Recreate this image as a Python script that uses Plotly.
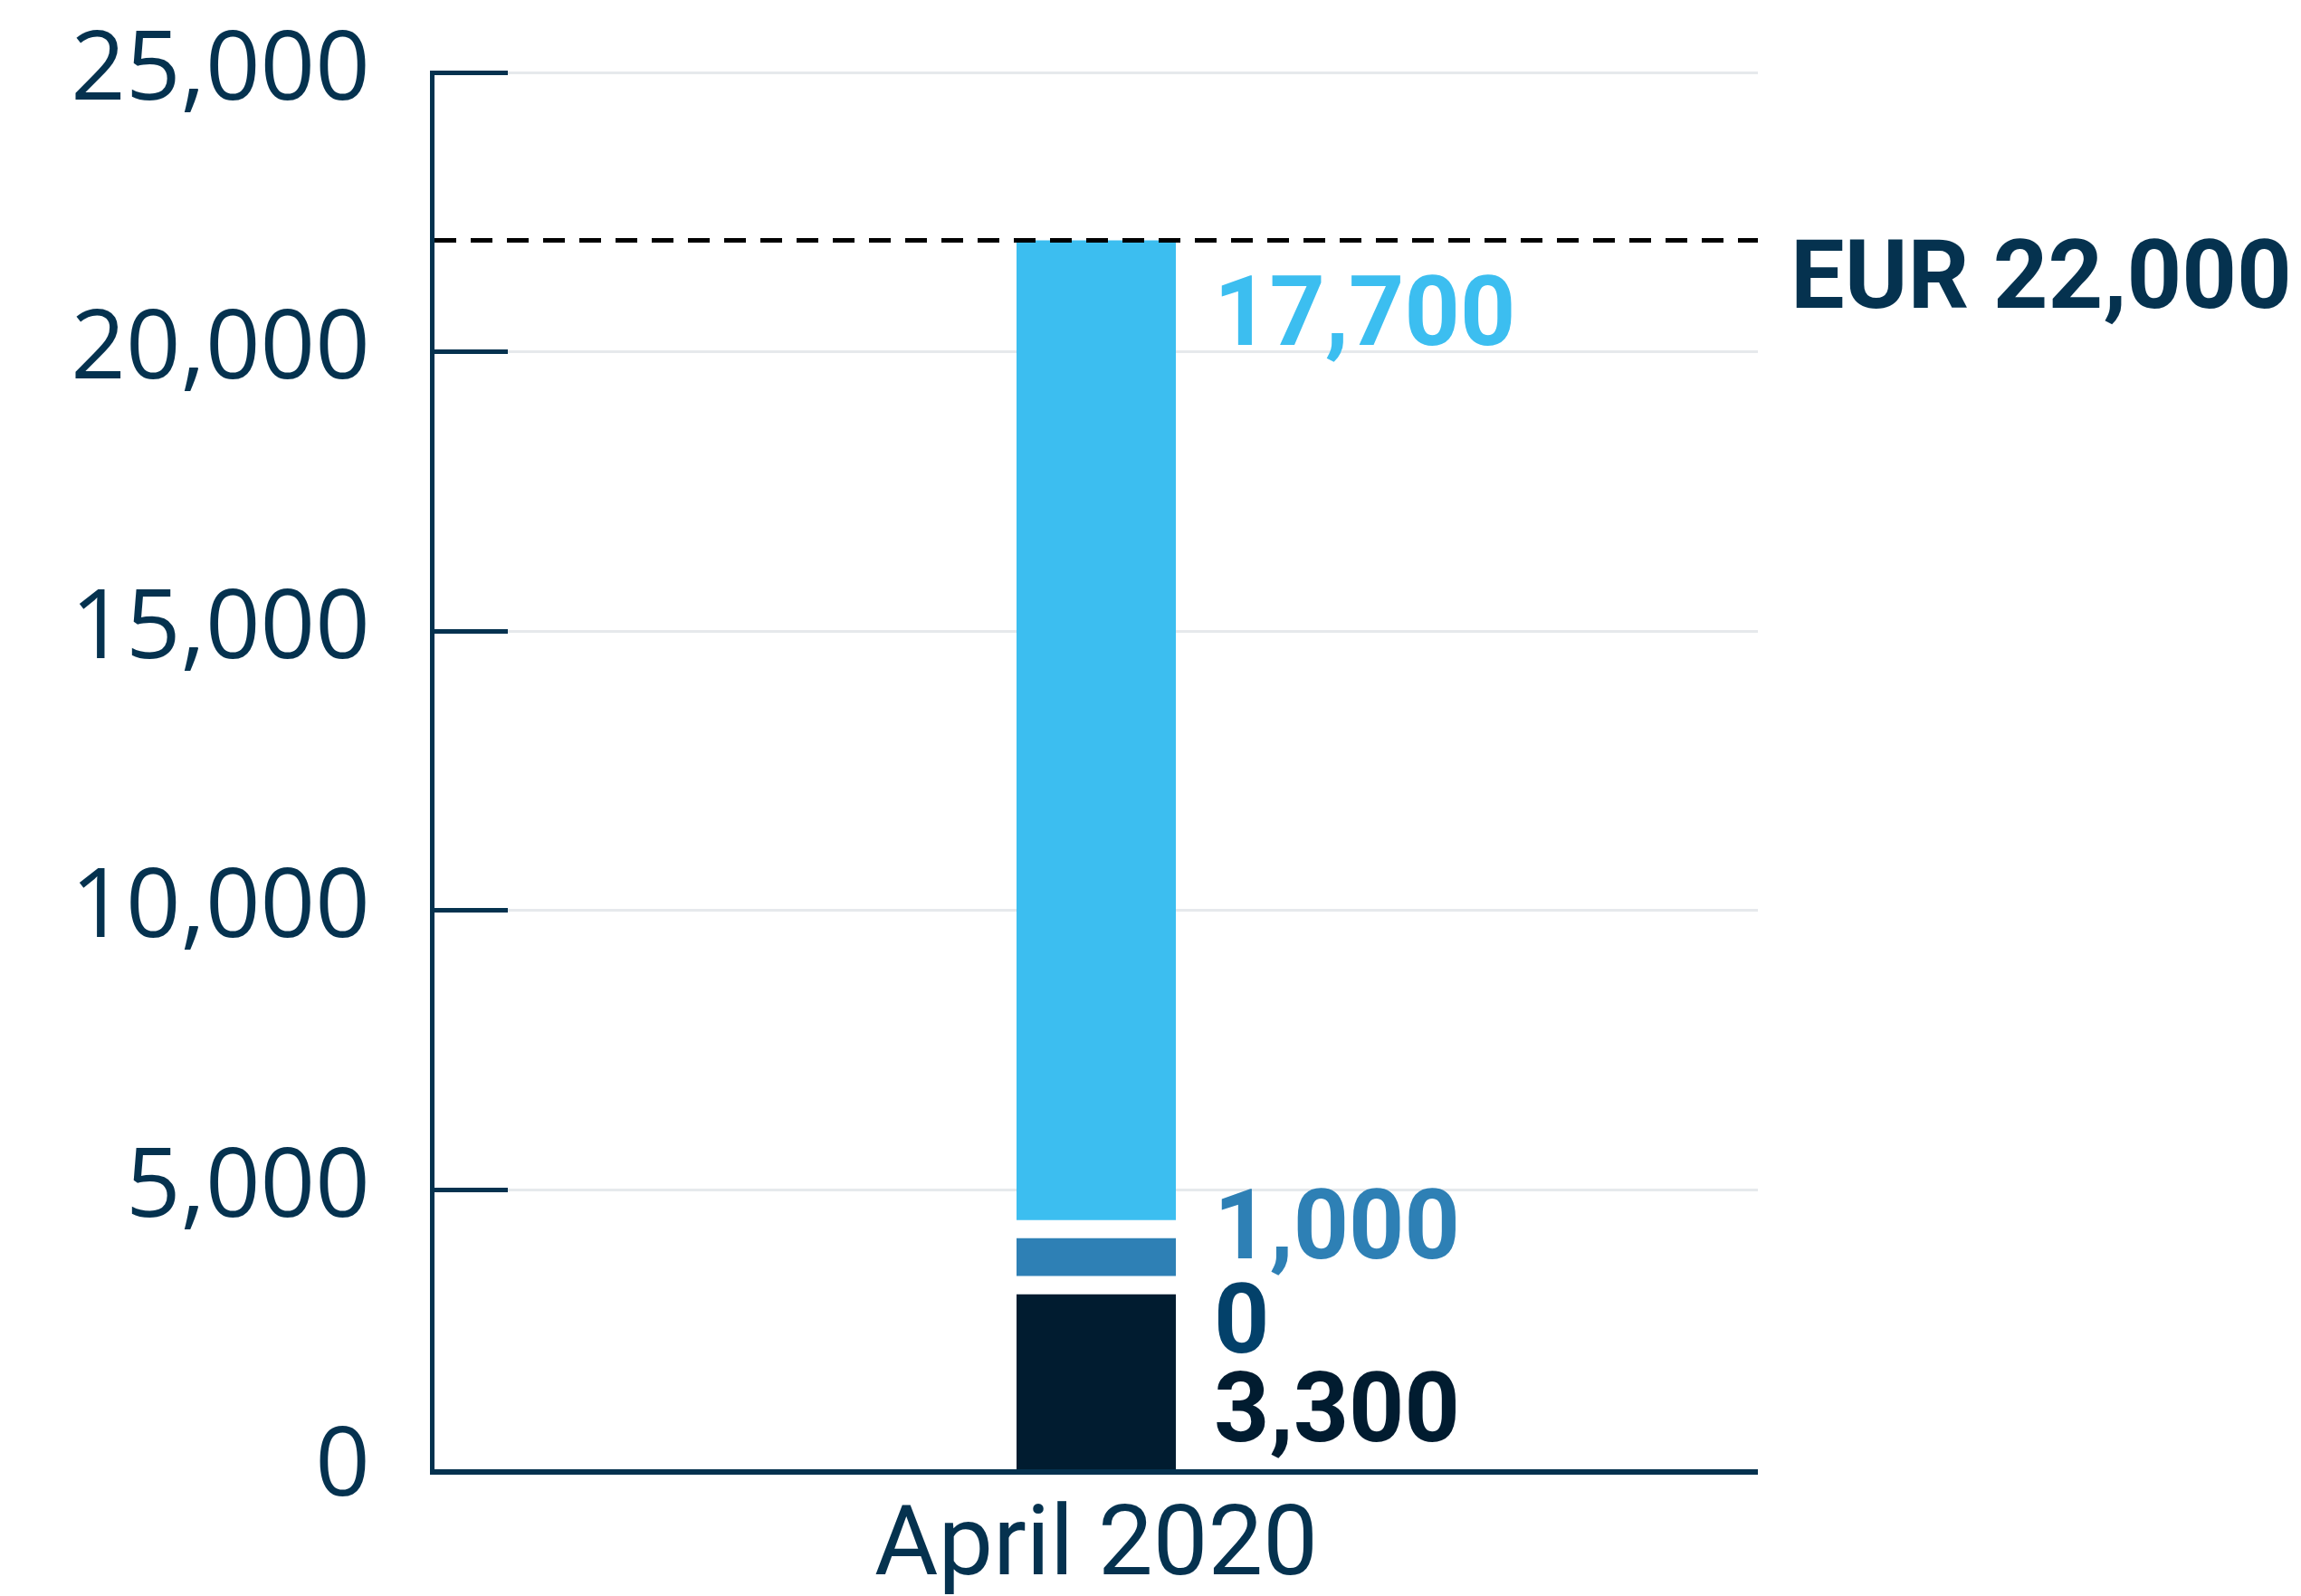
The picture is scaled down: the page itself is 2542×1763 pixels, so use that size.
import numpy as np
import plotly.graph_objects as go

# ---- data -------------------------------------------------------------
categories = ["April 2020"]
segment_names = ["Own funds", "Other", "Loans", "Grants"]
segment_values = [3300, 0, 1000, 17700]          # stacked bottom -> top
segment_colors = ["#011c30", "#03416a", "#2e80b5", "#3cbef0"]
total_value = 22000
total_label = "EUR 22,000"
y_tick_values = [0, 5000, 10000, 15000, 20000, 25000]

# ---- styling ------------------------------------------------------------
NAVY = "#05324f"
PLOT_W = 1462                 # plot area width in px
BAR_PX = 176                  # visible bar width in px
GAP_PX = 20                   # white separator between segments
bar_w = BAR_PX / PLOT_W
sep_w = (BAR_PX + GAP_PX) / PLOT_W

bases = np.concatenate([[0], np.cumsum(segment_values)[:-1]])
tops = bases + np.array(segment_values)

fig = go.Figure()

# draw order: top segment, bottom segment, then the separated middle ones
draw_order = [3, 0, 1, 2]
for i in draw_order:
    separated = i in (1, 2)
    fig.add_trace(go.Bar(
        x=categories,
        y=[segment_values[i]],
        base=[bases[i]],
        name=segment_names[i],
        width=sep_w if separated else bar_w,
        marker=dict(
            color=segment_colors[i],
            line=dict(color="white", width=GAP_PX if separated else 0),
        ),
        hoverinfo="skip",
        showlegend=False,
    ))

# value labels to the right of the bar
label_shift = [-136, -38, 4, -79]
for i in range(len(segment_values)):
    fig.add_annotation(
        x=categories[0], y=tops[i], xref="x", yref="y",
        text=f"{segment_values[i]:,}",
        showarrow=False, xanchor="left", yanchor="middle",
        xshift=BAR_PX / 2 + 40, yshift=label_shift[i],
        font=dict(family="Roboto", size=107, color=segment_colors[i], weight="bold"),
    )

# total reference line and its label
fig.add_shape(
    type="line", xref="paper", yref="y", x0=0, x1=1, y0=total_value, y1=total_value,
    line=dict(color="#000000", width=5, dash="24px,16px"), layer="above",
)
fig.add_annotation(
    x=1, y=total_value, xref="paper", yref="y", text=total_label,
    showarrow=False, xanchor="left", yanchor="middle", xshift=34, yshift=-38,
    font=dict(family="Roboto", size=106, color=NAVY, weight="bold"),
)

fig.update_layout(
    width=2542, height=1763,
    margin=dict(l=480, r=600, t=78, b=140, autoexpand=False),
    paper_bgcolor="white", plot_bgcolor="white",
    barmode="overlay",
    showlegend=False,
)
fig.update_xaxes(
    range=[-0.5, 0.5], showline=True, linecolor=NAVY, linewidth=6,
    showgrid=False, ticks="", zeroline=False, automargin=False,
    tickfont=dict(family="Roboto", size=108, color=NAVY),
    ticklabelstandoff=-20,
)
fig.update_yaxes(
    # a hair of headroom keeps the top tick and gridline from being clipped
    range=[0, 25040], tickvals=y_tick_values, tickformat=",d",
    showline=True, linecolor=NAVY, linewidth=5,
    ticks="inside", ticklen=81, tickwidth=5, tickcolor=NAVY,
    showgrid=True, gridcolor="#e6e9ec", gridwidth=3, zeroline=False,
    automargin=False, ticklabeloverflow="allow",
    tickfont=dict(family="Open Sans", size=106, color=NAVY),
    ticklabelstandoff=45, ticklabelshift=-8,
)

fig.write_html("out.html")
